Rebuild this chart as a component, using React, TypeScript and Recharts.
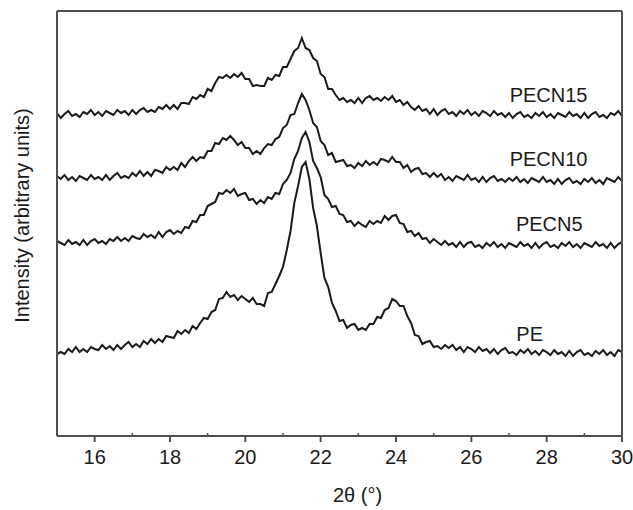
import { LineChart, Line, XAxis, YAxis, ReferenceDot, Label } from "recharts";

// 2θ scan positions (degrees)
const twoTheta = [
  15.0, 15.1, 15.2, 15.3, 15.4, 15.5, 15.6, 15.7, 15.8, 15.9,
  16.0, 16.1, 16.2, 16.3, 16.4, 16.5, 16.6, 16.7, 16.8, 16.9,
  17.0, 17.1, 17.2, 17.3, 17.4, 17.5, 17.6, 17.7, 17.8, 17.9,
  18.0, 18.1, 18.2, 18.3, 18.4, 18.5, 18.6, 18.7, 18.8, 18.9,
  19.0, 19.1, 19.2, 19.3, 19.4, 19.5, 19.6, 19.7, 19.8, 19.9,
  20.0, 20.1, 20.2, 20.3, 20.4, 20.5, 20.6, 20.7, 20.8, 20.9,
  21.0, 21.1, 21.2, 21.3, 21.4, 21.5, 21.6, 21.7, 21.8, 21.9,
  22.0, 22.1, 22.2, 22.3, 22.4, 22.5, 22.6, 22.7, 22.8, 22.9,
  23.0, 23.1, 23.2, 23.3, 23.4, 23.5, 23.6, 23.7, 23.8, 23.9,
  24.0, 24.1, 24.2, 24.3, 24.4, 24.5, 24.6, 24.7, 24.8, 24.9,
  25.0, 25.1, 25.2, 25.3, 25.4, 25.5, 25.6, 25.7, 25.8, 25.9,
  26.0, 26.1, 26.2, 26.3, 26.4, 26.5, 26.6, 26.7, 26.8, 26.9,
  27.0, 27.1, 27.2, 27.3, 27.4, 27.5, 27.6, 27.7, 27.8, 27.9,
  28.0, 28.1, 28.2, 28.3, 28.4, 28.5, 28.6, 28.7, 28.8, 28.9,
  29.0, 29.1, 29.2, 29.3, 29.4, 29.5, 29.6, 29.7, 29.8, 29.9,
  30.0,
];

// stacked intensities (arbitrary units, offset per sample)
const pecn15 = [
  323, 318, 322, 325, 320, 322, 319, 324, 322, 326,
  321, 324, 320, 325, 323, 321, 326, 323, 325, 321,
  326, 322, 326, 328, 324, 326, 324, 329, 327, 331,
  327, 331, 327, 333, 333, 332, 339, 337, 341, 339,
  347, 345, 353, 359, 358, 361, 358, 362, 359, 363,
  357, 357, 350, 351, 350, 350, 358, 356, 361, 360,
  369, 369, 377, 385, 388, 398, 388, 386, 378, 375,
  362, 359, 347, 347, 341, 336, 338, 334, 336, 333,
  338, 333, 338, 340, 336, 338, 335, 339, 336, 340,
  334, 336, 331, 334, 329, 326, 330, 325, 327, 322,
  327, 321, 325, 327, 322, 324, 320, 325, 322, 326,
  321, 324, 320, 325, 323, 320, 325, 321, 323, 319,
  323, 318, 322, 324, 319, 321, 318, 323, 320, 324,
  319, 322, 318, 323, 321, 319, 324, 320, 322, 318,
  323, 318, 322, 324, 319, 321, 318, 323, 321, 325,
  320,
];

const pecn10 = [
  260, 257, 261, 256, 259, 255, 260, 258, 256, 261,
  257, 259, 256, 261, 256, 260, 263, 258, 260, 258,
  263, 260, 265, 260, 264, 260, 266, 265, 263, 269,
  266, 269, 266, 273, 269, 275, 279, 275, 279, 278,
  285, 285, 293, 292, 298, 296, 300, 296, 291, 294,
  288, 288, 282, 285, 282, 288, 292, 291, 297, 299,
  308, 311, 321, 322, 333, 342, 336, 326, 313, 309,
  295, 291, 281, 283, 274, 275, 276, 270, 271, 268,
  273, 270, 275, 271, 274, 271, 277, 276, 274, 279,
  274, 274, 268, 271, 264, 267, 268, 262, 263, 259,
  263, 259, 262, 256, 259, 255, 260, 258, 256, 261,
  256, 258, 254, 259, 254, 258, 260, 255, 257, 254,
  258, 255, 259, 254, 257, 253, 258, 256, 254, 259,
  254, 256, 252, 257, 252, 256, 258, 253, 255, 252,
  257, 254, 258, 253, 256, 252, 258, 256, 254, 259,
  255,
];

const pecn5 = [
  195, 193, 191, 196, 192, 194, 191, 196, 191, 195,
  197, 193, 195, 192, 197, 195, 199, 195, 198, 195,
  200, 198, 197, 202, 199, 201, 198, 204, 199, 204,
  206, 202, 205, 203, 209, 208, 215, 214, 221, 221,
  230, 232, 234, 243, 242, 246, 243, 247, 240, 242,
  243, 236, 237, 232, 236, 233, 239, 237, 243, 242,
  252, 256, 263, 277, 285, 298, 304, 294, 275, 268,
  259, 241, 237, 229, 230, 222, 221, 214, 215, 210,
  214, 211, 209, 215, 212, 215, 213, 220, 216, 220,
  221, 213, 212, 204, 205, 200, 203, 197, 198, 193,
  197, 194, 191, 195, 191, 193, 189, 194, 189, 193,
  194, 189, 191, 188, 193, 190, 194, 189, 192, 188,
  193, 191, 189, 194, 190, 192, 188, 193, 188, 192,
  194, 189, 191, 188, 193, 190, 194, 189, 192, 188,
  193, 191, 189, 194, 190, 192, 188, 193, 188, 192,
  194,
];

const pe = [
  82, 84, 82, 87, 84, 89, 84, 87, 84, 89,
  87, 86, 91, 87, 90, 86, 91, 87, 91, 94,
  89, 92, 89, 95, 92, 97, 93, 97, 94, 100,
  99, 98, 105, 102, 106, 103, 110, 107, 113, 118,
  117, 124, 126, 137, 138, 144, 139, 141, 136, 140,
  137, 134, 138, 132, 132, 130, 143, 144, 152, 160,
  169, 186, 205, 233, 250, 269, 274, 257, 228, 210,
  183, 158, 149, 133, 125, 115, 116, 108, 111, 112,
  106, 108, 106, 112, 112, 119, 118, 126, 128, 137,
  135, 130, 130, 120, 113, 101, 100, 92, 94, 95,
  89, 90, 87, 91, 88, 91, 86, 89, 84, 89,
  87, 84, 89, 85, 87, 83, 87, 82, 86, 88,
  83, 84, 81, 86, 83, 87, 82, 85, 81, 86,
  84, 81, 86, 82, 84, 80, 85, 80, 84, 86,
  81, 83, 80, 85, 82, 86, 81, 84, 80, 86,
  84,
];

const xTicks = [16, 17, 18, 19, 20, 21, 22, 23, 24, 25, 26, 27, 28, 29, 30];

// curve name annotations
const labelNames = ["PECN15", "PECN10", "PECN5", "PE"];
const labelX = [28.05, 28.05, 28.07, 27.55];
const labelY = [341, 277, 212, 102];

const AXIS = "#505050";
const INK = "#1a1a1a";
const FONT = "'Liberation Sans', Arial, sans-serif";

const data = twoTheta.map((t, i) => ({
  t,
  pecn15: pecn15[i],
  pecn10: pecn10[i],
  pecn5: pecn5[i],
  pe: pe[i],
}));

// even ticks: outward with label, odd ticks: short inward mark
function XTick(props: any) {
  const { x, y, payload } = props;
  const v = payload.value;
  if (v % 2 !== 0) {
    return <line x1={x} x2={x} y1={y} y2={y - 3} stroke={AXIS} strokeWidth={1.5} />;
  }
  return (
    <g>
      <line x1={x} x2={x} y1={y} y2={y + 6} stroke={AXIS} strokeWidth={2} />
      <text x={x} y={y + 28} textAnchor="middle" fontSize={20} fill={INK} fontFamily={FONT}>
        {v}
      </text>
    </g>
  );
}

export default function App() {
  return (
    <div style={{ position: "absolute", left: 0, top: 0, fontFamily: FONT }}>
      <LineChart
        width={633}
        height={510}
        data={data}
        margin={{ top: 10, right: 10, bottom: 0, left: 0 }}
      >
        <XAxis
          dataKey="t"
          type="number"
          domain={[15, 30]}
          ticks={xTicks}
          interval={0}
          height={74}
          tickSize={0}
          tickMargin={0}
          tickLine={false}
          tick={<XTick />}
          axisLine={{ stroke: AXIS, strokeWidth: 2 }}
        >
          <Label
            content={(p: any) => {
              const vb = p.viewBox || { x: 57, y: 436, width: 565, height: 74 };
              return (
                <text
                  x={vb.x + vb.width / 2 + 18}
                  y={vb.y + 66}
                  textAnchor="middle"
                  fontSize={20}
                  fill={INK}
                  fontFamily={FONT}
                >
                  2θ (°)
                </text>
              );
            }}
          />
        </XAxis>
        <XAxis
          xAxisId="top"
          dataKey="t"
          type="number"
          domain={[15, 30]}
          orientation="top"
          height={1}
          tick={false}
          tickLine={false}
          axisLine={{ stroke: AXIS, strokeWidth: 2 }}
        />
        <YAxis
          type="number"
          domain={[0, 425]}
          width={57}
          tick={false}
          tickLine={false}
          axisLine={{ stroke: AXIS, strokeWidth: 2 }}
        >
          <Label
            content={(p: any) => {
              const vb = p.viewBox || { x: 0, y: 11, width: 57, height: 425 };
              const cx = vb.x + 22;
              const cy = vb.y + vb.height / 2 - 8;
              return (
                <text
                  x={cx}
                  y={cy}
                  transform={`rotate(-90 ${cx} ${cy})`}
                  textAnchor="middle"
                  dominantBaseline="central"
                  fontSize={20}
                  fill={INK}
                  fontFamily={FONT}
                >
                  Intensity (arbitrary units)
                </text>
              );
            }}
          />
        </YAxis>
        <YAxis
          yAxisId="right"
          orientation="right"
          domain={[0, 425]}
          width={1}
          tick={false}
          tickLine={false}
          axisLine={{ stroke: AXIS, strokeWidth: 2 }}
        />
        <Line dataKey="pecn15" stroke={INK} strokeWidth={2} dot={false} isAnimationActive={false} />
        <Line dataKey="pecn10" stroke={INK} strokeWidth={2} dot={false} isAnimationActive={false} />
        <Line dataKey="pecn5" stroke={INK} strokeWidth={2} dot={false} isAnimationActive={false} />
        <Line dataKey="pe" stroke={INK} strokeWidth={2} dot={false} isAnimationActive={false} />
        {labelNames.map((name, i) => (
          <ReferenceDot
            key={name}
            x={labelX[i]}
            y={labelY[i]}
            r={0}
            fill="none"
            stroke="none"
            label={{ value: name, position: "center", fontSize: 20, fill: INK, fontFamily: FONT }}
          />
        ))}
      </LineChart>
    </div>
  );
}
